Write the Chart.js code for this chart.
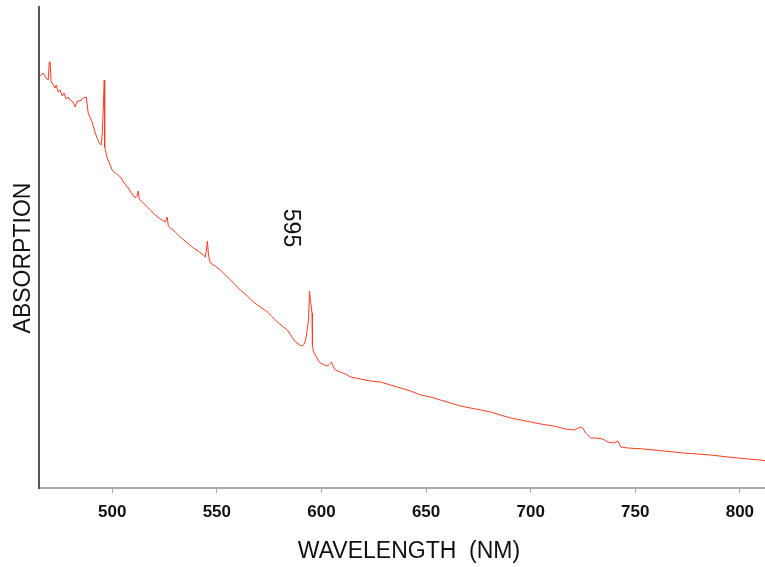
<!DOCTYPE html>
<html>
<head>
<meta charset="utf-8">
<title>Absorption spectrum</title>
<script src="https://cdn.jsdelivr.net/npm/chart.js@4/dist/chart.umd.min.js"></script>
<style>
  html, body { margin: 0; padding: 0; background: #fff; }
  #wrap { width: 765px; height: 567px; }
</style>
</head>
<body>
<div id="wrap"><canvas id="spec"></canvas></div>
<script>
// wavelength (nm) and absorption (arbitrary units)
const wavelength = [
  465.6, 467.0, 468.4, 469.4, 469.9, 470.3, 470.8, 471.3, 472.7, 473.2,
  474.2, 475.1, 476.1, 477.0, 478.0, 478.9, 479.9, 481.3, 482.3, 483.3,
  484.7, 486.1, 487.6, 488.5, 489.5, 490.4, 491.9, 492.8, 493.8, 494.7,
  495.2, 495.7, 496.2, 496.4, 496.7, 497.6, 499.0, 500.0, 501.4, 502.9,
  504.3, 505.7, 507.7, 509.1, 511.0, 512.0, 512.4, 512.9, 514.4, 515.8,
  518.2, 520.6, 523.0, 525.4, 526.3, 526.8, 527.8, 530.1, 532.5, 535.4,
  538.8, 541.1, 543.5, 544.5, 545.0, 545.5, 546.0, 546.9, 549.3, 551.7,
  554.1, 556.5, 558.9, 561.2, 564.6, 567.5, 570.8, 574.2, 576.6, 578.9,
  581.3, 583.7, 585.6, 587.6, 589.5, 590.9, 591.9, 592.8, 593.8, 594.3,
  594.7, 595.5, 595.7, 596.2, 597.1, 598.6, 599.5, 601.4, 602.9, 603.8,
  604.8, 605.7, 606.7, 609.1, 611.5, 613.9, 616.3, 618.7, 623.4, 628.2,
  633.0, 637.8, 642.6, 647.4, 652.2, 656.9, 661.7, 666.5, 671.3, 676.1,
  680.9, 685.6, 690.4, 695.2, 700.0, 704.8, 711.0, 716.7, 720.6, 723.0,
  723.9, 724.9, 726.3, 728.7, 731.6, 734.4, 736.8, 739.7, 741.6, 743.1,
  746.4, 754.1, 763.6, 773.2, 786.1, 794.3, 803.8, 810.0, 812.4
];
const absorption = [
  412, 415, 410, 408, 426, 426, 406, 405, 400, 403,
  396, 398, 392, 395, 389, 391, 388, 386, 381, 387,
  387, 390, 391, 375, 370, 366, 355, 350, 345, 343,
  353, 378, 408, 341, 338, 330, 323, 318, 315, 313,
  310, 305, 300, 295, 290, 293, 297, 289, 286, 283,
  278, 273, 269, 266, 271, 262, 260, 256, 251, 246,
  240, 237, 233, 231, 238, 247, 233, 225, 222, 218,
  213, 208, 203, 198, 192, 186, 181, 176, 171, 166,
  162, 158, 152, 146, 143, 142, 144, 152, 168, 197,
  188, 175, 143, 136, 133, 127, 125, 123, 122, 124,
  126, 121, 118, 116, 114, 111, 110, 109, 107, 106,
  103, 100, 97, 93, 91, 88, 85, 82, 80, 78,
  76, 73, 70, 68, 66, 64, 62, 59, 58, 60,
  61, 60, 55, 50, 50, 49, 46, 45, 47, 41,
  40, 39, 37, 35, 33, 31, 29, 28, 27
];
const xTicks = [500, 550, 600, 650, 700, 750, 800];
const peakLabel = '595';
const xTitle = 'WAVELENGTH  (NM)';
const yTitle = 'ABSORPTION';

const LINE_COLOR = '#ff3a1c';
const FONT = '"Liberation Sans", Arial, sans-serif';

// peak label and axis titles, drawn straight on the canvas
const labels = {
  id: 'labels',
  afterDraw(chart) {
    const { ctx, scales } = chart;
    ctx.save();
    ctx.font = `23px ${FONT}`;
    ctx.fillStyle = '#111';
    ctx.textAlign = 'center';
    ctx.textBaseline = 'middle';

    ctx.save();
    ctx.translate(scales.x.getPixelForValue(585), scales.y.getPixelForValue(260));
    ctx.rotate(Math.PI / 2);
    ctx.fillText(peakLabel, 0, 0);
    ctx.restore();

    ctx.fillText(xTitle, 409, 552);

    ctx.save();
    ctx.translate(24, 258);
    ctx.rotate(-Math.PI / 2);
    ctx.fillText(yTitle, 0, 0);
    ctx.restore();

    ctx.restore();
  }
};

new Chart(document.getElementById('spec'), {
  type: 'line',
  data: {
    datasets: [{
      data: wavelength.map((w, i) => ({ x: w, y: absorption[i] })),
      borderColor: LINE_COLOR,
      borderWidth: 1,
      pointRadius: 0,
      tension: 0,
      fill: false,
    }]
  },
  options: {
    responsive: true,
    maintainAspectRatio: false,
    animation: false,
    layout: { padding: { top: 7, right: 0, left: 0, bottom: 0 } },
    plugins: { legend: { display: false }, tooltip: { enabled: false } },
    scales: {
      x: {
        type: 'linear',
        min: 465,
        max: 812,
        afterBuildTicks: s => { s.ticks = xTicks.map(v => ({ value: v })); },
        afterFit: s => { s.height = 79; },
        grid: { drawOnChartArea: false, drawTicks: true, tickLength: 5, color: '#aaa' },
        border: { display: true, color: '#aaa', width: 2 },
        ticks: {
          color: '#111',
          padding: 9,
          font: { family: FONT, size: 17, weight: 'bold' },
        },
      },
      y: {
        min: 0,
        max: 481,
        afterFit: s => { s.width = 39; },
        ticks: { display: false },
        grid: { display: false },
        border: { display: true, color: '#555', width: 2 },
      },
    },
  },
  plugins: [labels],
});
</script>
</body>
</html>
